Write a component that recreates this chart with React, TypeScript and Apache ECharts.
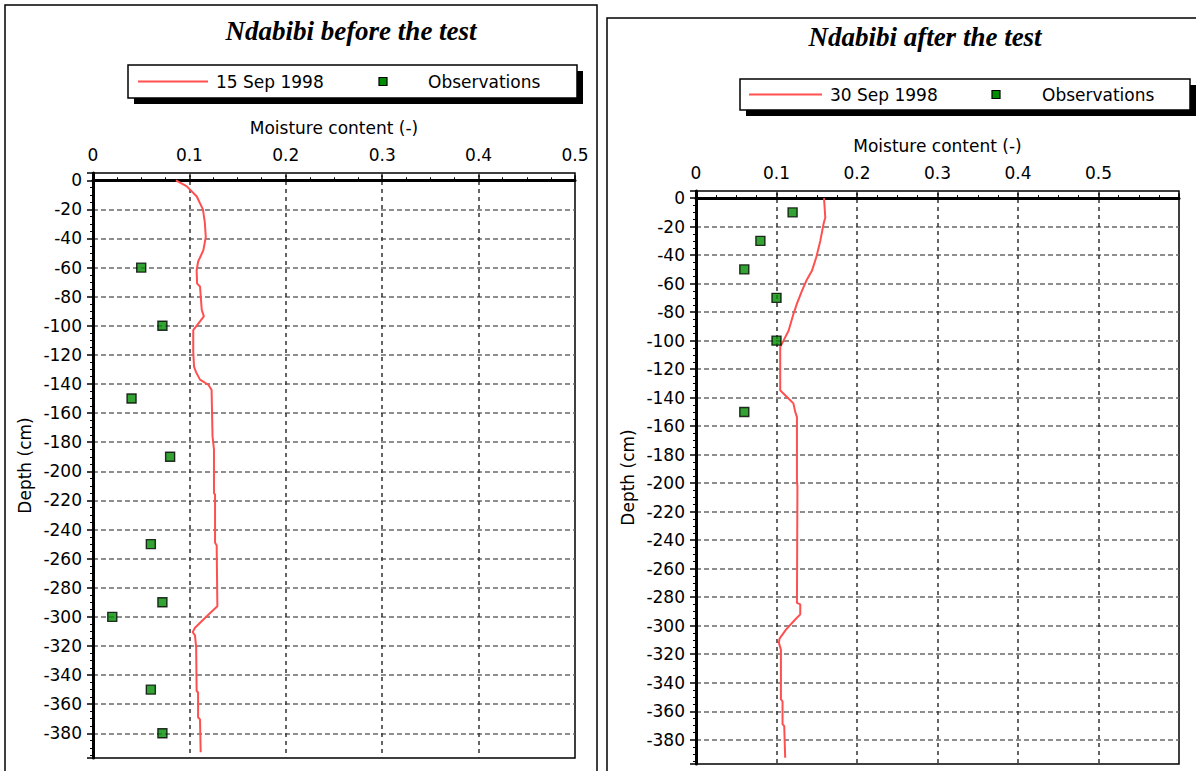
import React, { useEffect, useRef } from "react";
import * as echarts from "echarts";

const leftTitle = "Ndabibi before the test";
const rightTitle = "Ndabibi after the test";
const leftLineName = "15 Sep 1998";
const rightLineName = "30 Sep 1998";
const obsName = "Observations";
const xAxisName = "Moisture content (-)";
const yAxisName = "Depth (cm)";

const leftModelMoisture = [0.086, 0.097, 0.1075, 0.114, 0.116, 0.117, 0.1145, 0.109, 0.1075, 0.108, 0.111, 0.1128, 0.115, 0.111, 0.104, 0.104, 0.1048, 0.107, 0.111, 0.1196, 0.123, 0.124, 0.1255, 0.1255, 0.1266, 0.1266, 0.1283, 0.129, 0.118, 0.1058, 0.1034, 0.1058, 0.107, 0.1075, 0.109, 0.109, 0.111, 0.1117];
const leftModelDepth = [0, -4, -11, -20, -29, -39, -48, -56, -62, -71, -73, -89, -93.5, -97, -103, -118, -128, -132, -137, -140.5, -144, -176, -185, -215, -216, -249, -251, -292.7, -299.6, -307.5, -310.5, -312.8, -321, -351, -352, -369, -370.5, -393];
const leftObsMoisture = [0.05, 0.072, 0.04, 0.08, 0.06, 0.072, 0.02, 0.06, 0.072];
const leftObsDepth = [-60, -100, -150, -190, -250, -290, -300, -350, -380];

const rightModelMoisture = [0.159, 0.1606, 0.1585, 0.1544, 0.1494, 0.144, 0.137, 0.1316, 0.1254, 0.1212, 0.115, 0.1087, 0.1046, 0.1046, 0.1067, 0.113, 0.121, 0.1233, 0.1254, 0.1254, 0.126, 0.1254, 0.1295, 0.1295, 0.1233, 0.112, 0.1038, 0.103, 0.1055, 0.1055, 0.1075, 0.1075, 0.1096, 0.1108];
const rightModelDepth = [0, -13.6, -18, -30, -41.5, -51, -58, -65, -74, -81, -93, -100, -104.5, -134.8, -136, -139.5, -144, -150, -153.6, -198, -202, -284, -285, -292, -295.6, -302.6, -309, -312, -316.8, -351.7, -353, -369, -370.5, -392.6];
const rightObsMoisture = [0.12, 0.08, 0.06, 0.1, 0.1, 0.06];
const rightObsDepth = [-10, -30, -50, -70, -100, -150];

const LINE_COLOR = "#ff5050";
const OBS_COLOR = "#008c00";
const FONT = "DejaVu Sans";

const zip = (xs: number[], ys: number[]) => xs.map((x, i) => [x, ys[i]]);

function xAxisCfg(grid: number, max: number, showMax: boolean) {
  return {
    type: "value",
    gridIndex: grid,
    position: "top",
    min: 0,
    max,
    interval: 0.1,
    name: xAxisName,
    nameLocation: "middle",
    nameGap: 37,
    nameTextStyle: { fontFamily: FONT, fontSize: 17, color: "#000" },
    axisLine: { show: true, lineStyle: { color: "#000", width: 3 } },
    axisTick: { show: true, length: 5, lineStyle: { color: "#000", width: 1.5 } },
    minorTick: { show: true, splitNumber: 4, length: 3, lineStyle: { color: "#000", width: 1 } },
    axisLabel: {
      fontFamily: FONT,
      fontSize: 17,
      color: "#000",
      margin: 10,
      showMaxLabel: showMax,
    },
    splitLine: {
      show: true,
      showMinLine: false,
      showMaxLine: false,
      lineStyle: { color: "#333", width: 1.5, type: [4, 4] },
    },
  };
}

function yAxisCfg(grid: number) {
  return {
    type: "value",
    gridIndex: grid,
    min: -397,
    max: 5,
    minInterval: 20,
    maxInterval: 20,
    splitNumber: 20,
    name: yAxisName,
    nameLocation: "middle",
    nameRotate: 90,
    nameGap: 60,
    nameTextStyle: { fontFamily: FONT, fontSize: 17, color: "#000" },
    axisLine: { show: true, lineStyle: { color: "#000", width: 3 } },
    axisTick: { show: true, length: 6, lineStyle: { color: "#000", width: 1.5 } },
    minorTick: { show: true, splitNumber: 4, length: 3, lineStyle: { color: "#000", width: 1 } },
    axisLabel: {
      fontFamily: FONT,
      fontSize: 17,
      color: "#000",
      margin: 11,
      showMinLabel: false,
      showMaxLabel: false,
    },
    splitLine: {
      show: true,
      showMinLine: false,
      showMaxLine: false,
      lineStyle: { color: "#6a6a6a", width: 1.5, type: [5, 3] },
    },
  };
}

function legendBox(x: number, y: number, w: number, h: number, lineName: string, lineX1: number, lineX2: number, textX: number, sqX: number, obsX: number) {
  const cy = y + h / 2;
  return [
    { type: "rect", shape: { x: x + 6, y: y + 6, width: w, height: h }, style: { fill: "#000" }, z: 10 },
    { type: "rect", shape: { x, y, width: w, height: h }, style: { fill: "#fff", stroke: "#000", lineWidth: 1.5 }, z: 11 },
    { type: "line", shape: { x1: lineX1, y1: cy, x2: lineX2, y2: cy }, style: { stroke: LINE_COLOR, lineWidth: 2 }, z: 12 },
    { type: "text", x: textX, y: cy, style: { text: lineName, fill: "#000", font: `17px "${FONT}"`, align: "left", verticalAlign: "middle" }, z: 12 },
    { type: "rect", shape: { x: sqX - 4, y: cy - 4, width: 8, height: 8 }, style: { fill: OBS_COLOR, stroke: "#000", lineWidth: 1.2 }, z: 12 },
    { type: "text", x: obsX, y: cy, style: { text: obsName, fill: "#000", font: `17px "${FONT}"`, align: "left", verticalAlign: "middle" }, z: 12 },
  ];
}

export default function App() {
  const ref = useRef<HTMLDivElement>(null);
  useEffect(() => {
    if (!ref.current) return;
    const chart = echarts.init(ref.current, undefined, { renderer: "svg" });
    const titleStyle = { fontFamily: "Liberation Serif", fontStyle: "italic", fontWeight: "bold", fontSize: 27, color: "#000" };
    const option: any = {
      animation: false,
      backgroundColor: "#fff",
      title: [
        { text: leftTitle, left: 346, top: 12, textAlign: "center", textStyle: titleStyle },
        { text: rightTitle, left: 920, top: 18, textAlign: "center", textStyle: titleStyle },
      ],
      grid: [
        { left: 93, top: 173, width: 482, height: 585, show: true, borderColor: "#000", borderWidth: 1.5, backgroundColor: "transparent" },
        { left: 696, top: 191, width: 483, height: 573, show: true, borderColor: "#000", borderWidth: 1.5, backgroundColor: "transparent" },
      ],
      xAxis: [xAxisCfg(0, 0.5, true), xAxisCfg(1, 0.6, false)],
      yAxis: [yAxisCfg(0), yAxisCfg(1)],
      series: [
        {
          name: leftLineName,
          type: "line",
          xAxisIndex: 0,
          yAxisIndex: 0,
          data: zip(leftModelMoisture, leftModelDepth),
          symbol: "none",
          lineStyle: { color: LINE_COLOR, width: 2 },
          z: 3,
        },
        {
          name: obsName,
          type: "scatter",
          xAxisIndex: 0,
          yAxisIndex: 0,
          data: zip(leftObsMoisture, leftObsDepth),
          symbol: "rect",
          symbolSize: 9,
          itemStyle: { color: OBS_COLOR, borderColor: "#000", borderWidth: 1.4 },
          z: 4,
        },
        {
          name: rightLineName,
          type: "line",
          xAxisIndex: 1,
          yAxisIndex: 1,
          data: zip(rightModelMoisture, rightModelDepth),
          symbol: "none",
          lineStyle: { color: LINE_COLOR, width: 2 },
          z: 3,
        },
        {
          name: obsName + " ",
          type: "scatter",
          xAxisIndex: 1,
          yAxisIndex: 1,
          data: zip(rightObsMoisture, rightObsDepth),
          symbol: "rect",
          symbolSize: 9,
          itemStyle: { color: OBS_COLOR, borderColor: "#000", borderWidth: 1.4 },
          z: 4,
        },
      ],
      graphic: [
        { type: "rect", shape: { x: 5, y: 5, width: 592, height: 820 }, style: { fill: "none", stroke: "#000", lineWidth: 1.5 }, z: 1 },
        { type: "rect", shape: { x: 607, y: 18, width: 620, height: 820 }, style: { fill: "none", stroke: "#000", lineWidth: 1.5 }, z: 1 },
        ...legendBox(128, 65, 449, 33, leftLineName, 138, 208, 216, 383, 428),
        ...legendBox(740, 79, 450, 31, rightLineName, 749, 822, 830, 996, 1042),
      ],
    };
    chart.setOption(option);
    return () => chart.dispose();
  }, []);
  return (
    <div
      ref={ref}
      style={{ position: "fixed", left: 0, top: 0, width: 1196, height: 771, background: "#fff" }}
    />
  );
}
